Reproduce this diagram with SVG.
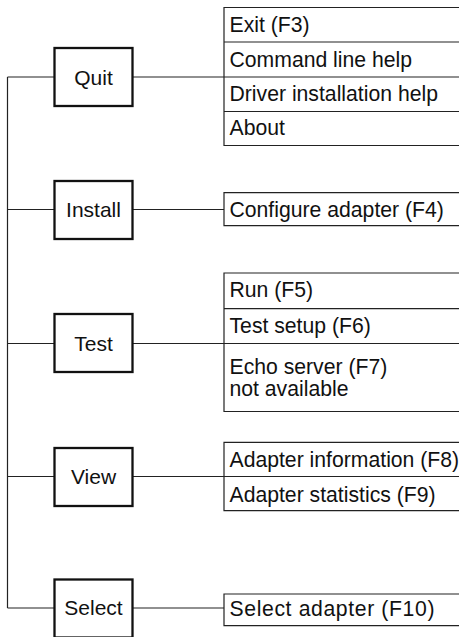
<svg xmlns="http://www.w3.org/2000/svg" width="459" height="637" viewBox="0 0 459 637">
<style>
  .box { fill: #ffffff; stroke: #111111; stroke-width: 2.3; }
  .lbl { font-family: "Liberation Sans", Arial, sans-serif; font-size: 21px; fill: #111111; text-anchor: middle; }
  .item { font-family: "Liberation Sans", Arial, sans-serif; font-size: 21.2px; fill: #111111; }
  .menu { fill: none; stroke: #222222; stroke-width: 1.2; }
  .conn { fill: none; stroke: #222222; stroke-width: 1.2; }
</style>
<rect width="459" height="637" fill="#ffffff"/>
<g id="connectors">
  <path class="conn" d="M7.5,77 V608 M7.5,77 H54 M7.5,209.5 H54 M7.5,343.5 H54 M7.5,476.5 H54 M7.5,608 H54"/>
  <path class="conn" d="M133,77 H224 M133,209.5 H224 M133,343.5 H224 M133,476.5 H224 M133,608 H224"/>
</g>
<g id="quit">
  <rect class="box" x="54.5" y="48" width="78" height="58"/>
  <text class="lbl" x="93.5" y="84.5">Quit</text>
</g>
<g id="install">
  <rect class="box" x="54.5" y="181" width="78" height="58"/>
  <text class="lbl" x="93.5" y="216.5">Install</text>
</g>
<g id="test">
  <rect class="box" x="54.5" y="314" width="78" height="58"/>
  <text class="lbl" x="93.5" y="350.5">Test</text>
</g>
<g id="view">
  <rect class="box" x="54.5" y="448" width="78" height="58"/>
  <text class="lbl" x="93.5" y="483.5">View</text>
</g>
<g id="select">
  <rect class="box" x="54.5" y="579.5" width="78" height="58"/>
  <text class="lbl" x="93.5" y="615">Select</text>
</g>
<g id="quit-menu">
  <path class="menu" d="M460,7.5 H224 V145.5 H460 M224,42 H460 M224,77 H460 M224,111.5 H460"/>
  <text class="item" x="229.5" y="32.3">Exit (F3)</text>
  <text class="item" x="229.5" y="66.5">Command line help</text>
  <text class="item" x="229.5" y="100.8">Driver installation help</text>
  <text class="item" x="229.5" y="135">About</text>
</g>
<g id="install-menu">
  <path class="menu" d="M460,192.7 H224 V225.7 H460"/>
  <text class="item" x="229.5" y="216.7">Configure adapter (F4)</text>
</g>
<g id="test-menu">
  <path class="menu" d="M460,273 H224 V411.5 H460 M224,308.7 H460 M224,343.5 H460"/>
  <text class="item" x="229.5" y="297.3">Run (F5)</text>
  <text class="item" x="229.5" y="333">Test setup (F6)</text>
  <text class="item" x="229.5" y="373.5">Echo server (F7)</text>
  <text class="item" x="229.5" y="395.5">not available</text>
</g>
<g id="view-menu">
  <path class="menu" d="M460,442.3 H224 V510.7 H460 M224,476.5 H460"/>
  <text class="item" x="229.5" y="466.7">Adapter information (F8)</text>
  <text class="item" x="229.5" y="501.5">Adapter statistics (F9)</text>
</g>
<g id="select-menu">
  <path class="menu" d="M460,594 H224 V625.7 H460"/>
  <text class="item" x="229.5" y="615.5" textLength="205" lengthAdjust="spacing">Select adapter (F10)</text>
</g>
</svg>
